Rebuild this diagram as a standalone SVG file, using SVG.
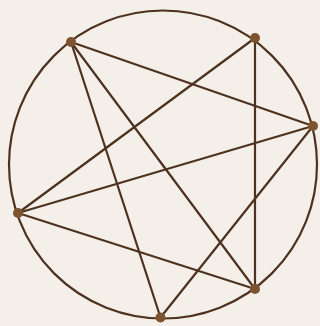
<svg xmlns="http://www.w3.org/2000/svg" width="320" height="326" viewBox="0 0 320 326">
<style>
.ln{stroke:#4e3220;stroke-width:2.2;fill:none;stroke-linecap:round}
.pt{fill:#7d5330}
</style>
<rect width="320" height="326" fill="#f4efe9"/>
<circle cx="163" cy="164.5" r="154" class="ln" stroke-width="2"/>
<g id="connectors" class="ln">
<line x1="71" y1="42" x2="313" y2="126"/>
<line x1="71" y1="42" x2="255" y2="289"/>
<line x1="71" y1="42" x2="160.5" y2="317.5"/>
<line x1="255" y1="38" x2="18" y2="213"/>
<line x1="255" y1="38" x2="255" y2="289"/>
<line x1="313" y1="126" x2="18" y2="213"/>
<line x1="313" y1="126" x2="160.5" y2="317.5"/>
<line x1="18" y1="213" x2="255" y2="289"/>
</g>
<g id="A"><circle class="pt" cx="71" cy="42" r="5"/></g>
<g id="B"><circle class="pt" cx="255" cy="38" r="5"/></g>
<g id="C"><circle class="pt" cx="313" cy="126" r="5"/></g>
<g id="D"><circle class="pt" cx="18" cy="213" r="5"/></g>
<g id="E"><circle class="pt" cx="255" cy="289" r="5"/></g>
<g id="F"><circle class="pt" cx="160.5" cy="317.5" r="5"/></g>
</svg>
